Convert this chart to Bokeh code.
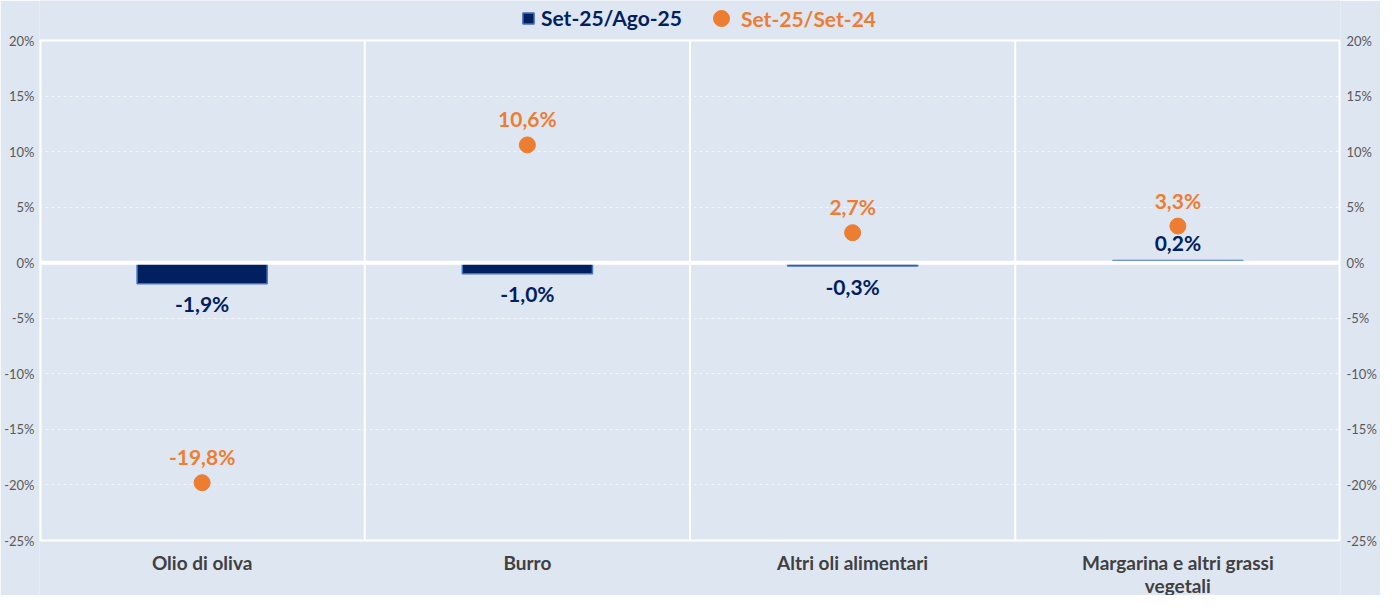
from bokeh.plotting import figure
from bokeh.models import Range1d, FixedTicker, LinearAxis, Legend, LegendItem, ColumnDataSource
from bokeh.embed import file_html
from bokeh.resources import INLINE
from bokeh.core.properties import value

# ---- data ----
categories = ["Olio di oliva", "Burro", "Altri oli alimentari", "Margarina e altri grassi\nvegetali"]
monthly = [-1.9, -1.0, -0.3, 0.2]       # Set-25/Ago-25
yearly = [-19.8, 10.6, 2.7, 3.3]        # Set-25/Set-24
series_names = ["Set-25/Ago-25", "Set-25/Set-24"]
y_ticks = [-25, -20, -15, -10, -5, 0, 5, 10, 15, 20]
y_tick_labels = ["-25%", "-20%", "-15%", "-10%", "-5%", "0%", "5%", "10%", "15%", "20%"]

NAVY = "#002060"
BLUE = "#4472c4"
ORANGE = "#ed7d31"
BG = "#dee6f2"
FONT = "Lato"

# layout (pixels)
W, H = 1380, 595
LEFT, RIGHT = 39, 40
PLOT_TOP, PLOT_BOTTOM = 40, 540          # pixel rows of the top / bottom tick
ymin, ymax = y_ticks[0], y_ticks[-1]
ppu = (PLOT_BOTTOM - PLOT_TOP) / (ymax - ymin)
y_start = ymin - (H - PLOT_BOTTOM) / ppu
y_end = ymax + PLOT_TOP / ppu

def pct(v):
    return f"{v:.1f}%".replace(".", ",")

n = len(categories)
xs = [i + 0.5 for i in range(n)]
src = ColumnDataSource(dict(
    x=xs, m=monthly, y=yearly, cat=categories,
    mlab=[pct(v) for v in monthly],
    ylab=[pct(v) for v in yearly],
    moff=[20 if v < 0 else -18 for v in monthly],
))

p = figure(width=W, height=H, output_backend="svg", toolbar_location=None,
           x_range=Range1d(0, n), y_range=Range1d(y_start, y_end),
           min_border_left=LEFT, min_border_right=RIGHT, min_border_top=0, min_border_bottom=0)
p.background_fill_color = BG
p.border_fill_color = BG
p.outline_line_color = None
p.xaxis.visible = False

def style_y(ax, standoff):
    ax.ticker = FixedTicker(ticks=y_ticks)
    ax.major_label_overrides = {t: l for t, l in zip(y_ticks, y_tick_labels)}
    ax.axis_line_color = None
    ax.major_tick_line_color = None
    ax.minor_tick_line_color = None
    ax.major_tick_out = 0
    ax.major_tick_in = 0
    ax.major_label_text_font = FONT
    ax.major_label_text_font_size = "13px"
    ax.major_label_text_color = "#595959"
    ax.major_label_standoff = standoff

style_y(p.yaxis[0], 5)
rax = LinearAxis()
style_y(rax, 6)
p.add_layout(rax, "right")

# grids
p.xgrid.visible = False
p.ygrid.ticker = FixedTicker(ticks=y_ticks)
p.ygrid.grid_line_color = "white"
p.ygrid.grid_line_alpha = 0.6
p.ygrid.grid_line_dash = "3 3"
p.ygrid.grid_line_width = 1

# plot-area border and category separators
seps = list(range(1, n))
p.segment(x0=seps, x1=seps, y0=ymin, y1=ymax, line_color="white", line_width=2)
p.segment(x0=[0, n], x1=[0, n], y0=ymin, y1=ymax, line_color="white", line_width=4)
p.segment(x0=[0, 0], x1=[n, n], y0=[ymin, ymax], y1=[ymin, ymax], line_color="white", line_width=2)

# bars
bars = p.vbar(x="x", top="m", bottom=0, width=0.4, source=src,
              fill_color=NAVY, line_color=BLUE, line_width=1.5)
# zero line
p.segment(x0=[0], x1=[n], y0=[0], y1=[0], line_color="white", line_width=4)

dots = p.scatter(x="x", y="y", source=src, size=16, marker="circle",
                 fill_color=ORANGE, line_color=ORANGE)

p.text(x="x", y="m", text="mlab", source=src, y_offset="moff",
       text_align="center", text_baseline="middle", text_color=NAVY,
       text_font=value(FONT), text_font_style="bold", text_font_size="21px")
p.text(x="x", y="y", text="ylab", source=src, y_offset=-26,
       text_align="center", text_baseline="middle", text_color=ORANGE,
       text_font=value(FONT), text_font_style="bold", text_font_size="21px")

# category labels
p.text(x="x", y=ymin, text="cat", source=src, y_offset=10,
       text_align="center", text_baseline="top", text_color="#404040",
       text_font=value(FONT), text_font_style="bold", text_font_size="19px",
       text_line_height=1.0)

# legends
def mk_legend(item, loc, color, gw, gh, standoff):
    lg = Legend(items=[item], location=loc, orientation="horizontal",
                glyph_width=gw, glyph_height=gh, label_standoff=standoff,
                padding=0, margin=0, spacing=0,
                border_line_color=None, background_fill_alpha=0,
                label_text_font=FONT, label_text_font_style="bold",
                label_text_font_size="21px", label_text_color=color)
    p.add_layout(lg, "center")

mk_legend(LegendItem(label=series_names[0], renderers=[bars]), (482, 565), NAVY, 14, 14, 6)
mk_legend(LegendItem(label=series_names[1], renderers=[dots]), (662, 557), ORANGE, 40, 40, -7)

open("out.html", "w").write(file_html(p, INLINE))
